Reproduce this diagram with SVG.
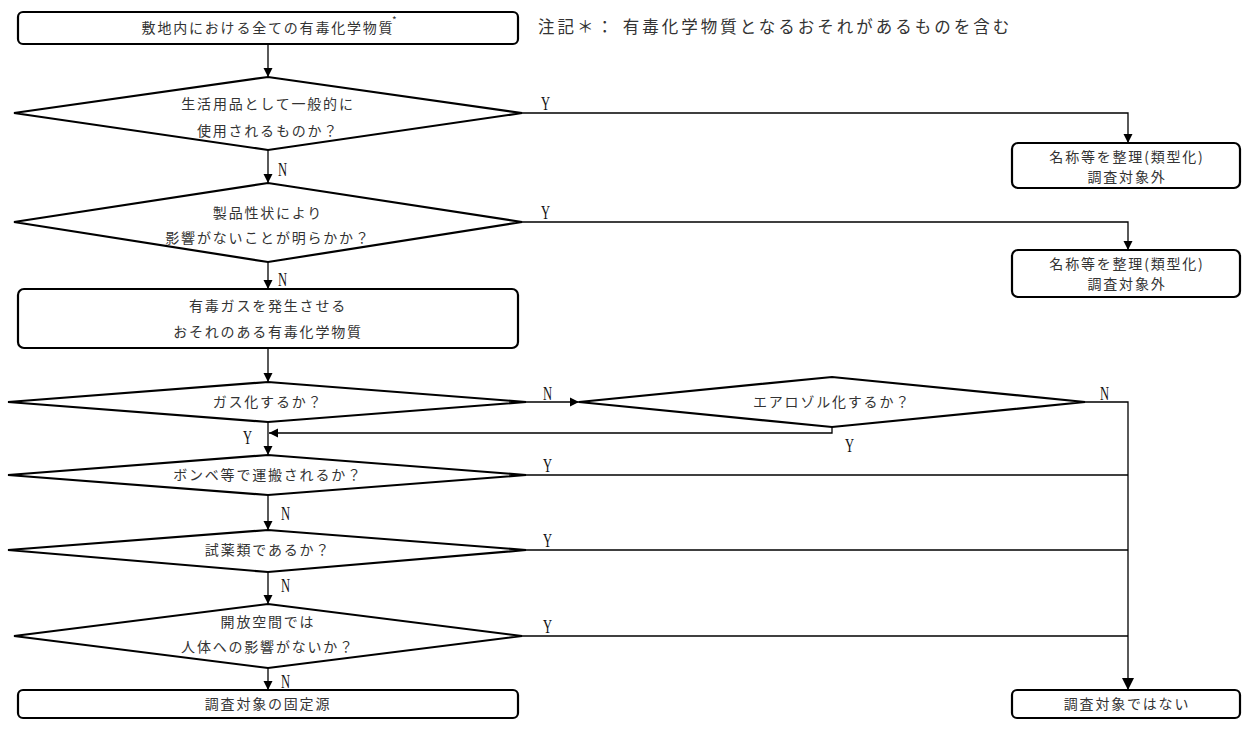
<svg xmlns="http://www.w3.org/2000/svg" width="1255" height="730" viewBox="0 0 1255 730">
<defs>
<style>
.box{fill:#fff;stroke:#000;stroke-width:2.2}
.dia{fill:#fff;stroke:#000;stroke-width:2.2;stroke-linejoin:miter}
.t{font-family:"Noto Sans CJK JP","Liberation Sans",sans-serif;font-size:14px;letter-spacing:1.8px;fill:#333;text-anchor:middle}
.note{font-family:"Noto Sans CJK JP","Liberation Sans",sans-serif;font-size:16.5px;letter-spacing:3px;fill:#333}
.lbl{font-family:"Liberation Serif","Noto Sans CJK JP",serif;font-size:18px;fill:#111}
.c{fill:none;stroke:#000;stroke-width:1.3}
</style>
<marker id="ah" viewBox="0 0 10 10" refX="10" refY="5" markerWidth="9" markerHeight="10" markerUnits="userSpaceOnUse" orient="auto">
<path d="M0,0 L10,5 L0,10 z" fill="#000"/>
</marker>
<marker id="ahL" viewBox="0 0 10 10" refX="10" refY="5" markerWidth="12" markerHeight="14" markerUnits="userSpaceOnUse" orient="auto">
<path d="M0,0 L10,5 L0,10 z" fill="#000"/>
</marker>
</defs>
<rect width="1255" height="730" fill="#fff"/>

<g id="connectors">
<path class="c" d="M268,44 V77" marker-end="url(#ah)"/>
<path class="c" d="M522,113 H1128 V143" marker-end="url(#ah)"/>
<path class="c" d="M268,150 V183" marker-end="url(#ah)"/>
<path class="c" d="M522,222 H1128 V250" marker-end="url(#ah)"/>
<path class="c" d="M268,262 V289" marker-end="url(#ah)"/>
<path class="c" d="M268,348 V382" marker-end="url(#ah)"/>
<path class="c" d="M526,402 H579" marker-end="url(#ah)"/>
<path class="c" d="M1085,402 H1128 V690" marker-end="url(#ahL)"/>
<path class="c" d="M832,427 V433 H269" marker-end="url(#ah)"/>
<path class="c" d="M268,422 V455" marker-end="url(#ah)"/>
<path class="c" d="M526,475 H1128"/>
<path class="c" d="M268,495 V530" marker-end="url(#ah)"/>
<path class="c" d="M526,550 H1128"/>
<path class="c" d="M268,572 V604" marker-end="url(#ah)"/>
<path class="c" d="M522,636 H1128"/>
<path class="c" d="M268,668 V690" marker-end="url(#ah)"/>
</g>

<g id="labels">
<text class="lbl" transform="translate(541,110) scale(0.7,1)">Y</text>
<text class="lbl" transform="translate(278,176) scale(0.7,1)">N</text>
<text class="lbl" transform="translate(541,219) scale(0.7,1)">Y</text>
<text class="lbl" transform="translate(278,286) scale(0.7,1)">N</text>
<text class="lbl" transform="translate(543,400) scale(0.7,1)">N</text>
<text class="lbl" transform="translate(1100,400) scale(0.7,1)">N</text>
<text class="lbl" transform="translate(845,452) scale(0.7,1)">Y</text>
<text class="lbl" transform="translate(243,444) scale(0.7,1)">Y</text>
<text class="lbl" transform="translate(543,472) scale(0.7,1)">Y</text>
<text class="lbl" transform="translate(281,520) scale(0.7,1)">N</text>
<text class="lbl" transform="translate(543,547) scale(0.7,1)">Y</text>
<text class="lbl" transform="translate(281,592) scale(0.7,1)">N</text>
<text class="lbl" transform="translate(543,633) scale(0.7,1)">Y</text>
<text class="lbl" transform="translate(281,688) scale(0.7,1)">N</text>
</g>

<g id="n-start">
<rect class="box" x="18" y="12" width="500" height="32" rx="5"/>
<text class="t" x="268" y="33">敷地内における全ての有毒化学物質</text>
<text class="note" x="392" y="24" style="font-size:10px">*</text>
</g>

<g id="n-note">
<text class="note" x="538" y="33">注記＊： 有毒化学物質となるおそれがあるものを含む</text>
</g>

<g id="n-d1">
<polygon class="dia" points="14,113 268,77 522,113 268,150"/>
<text class="t" x="268" y="109">生活用品として一般的に</text>
<text class="t" x="268" y="136">使用されるものか？</text>
</g>

<g id="n-out1">
<rect class="box" x="1012" y="143" width="228" height="45" rx="6"/>
<text class="t" x="1127" y="162">名称等を整理(類型化)</text>
<text class="t" x="1127" y="182">調査対象外</text>
</g>

<g id="n-d2">
<polygon class="dia" points="14,222 268,183 522,222 268,262"/>
<text class="t" x="268" y="218">製品性状により</text>
<text class="t" x="268" y="243">影響がないことが明らかか？</text>
</g>

<g id="n-out2">
<rect class="box" x="1012" y="250" width="228" height="47" rx="6"/>
<text class="t" x="1127" y="269">名称等を整理(類型化)</text>
<text class="t" x="1127" y="289">調査対象外</text>
</g>

<g id="n-gas">
<rect class="box" x="18" y="289" width="500" height="59" rx="6"/>
<text class="t" x="268" y="311">有毒ガスを発生させる</text>
<text class="t" x="268" y="337">おそれのある有毒化学物質</text>
</g>

<g id="n-d3">
<polygon class="dia" points="8,402 268,382 526,402 268,422"/>
<text class="t" x="268" y="407">ガス化するか？</text>
</g>

<g id="n-d4">
<polygon class="dia" points="579,402 832,377 1085,402 832,427"/>
<text class="t" x="832" y="407">エアロゾル化するか？</text>
</g>

<g id="n-d5">
<polygon class="dia" points="8,475 268,455 526,475 268,495"/>
<text class="t" x="268" y="480">ボンベ等で運搬されるか？</text>
</g>

<g id="n-d6">
<polygon class="dia" points="8,550 268,530 526,550 268,572"/>
<text class="t" x="268" y="555">試薬類であるか？</text>
</g>

<g id="n-d7">
<polygon class="dia" points="14,636 268,604 522,636 268,668"/>
<text class="t" x="268" y="627">開放空間では</text>
<text class="t" x="268" y="652">人体への影響がないか？</text>
</g>

<g id="n-fixed">
<rect class="box" x="18" y="690" width="500" height="28" rx="5"/>
<text class="t" x="268" y="709">調査対象の固定源</text>
</g>

<g id="n-not">
<rect class="box" x="1012" y="690" width="228" height="28" rx="5"/>
<text class="t" x="1127" y="709">調査対象ではない</text>
</g>
</svg>
